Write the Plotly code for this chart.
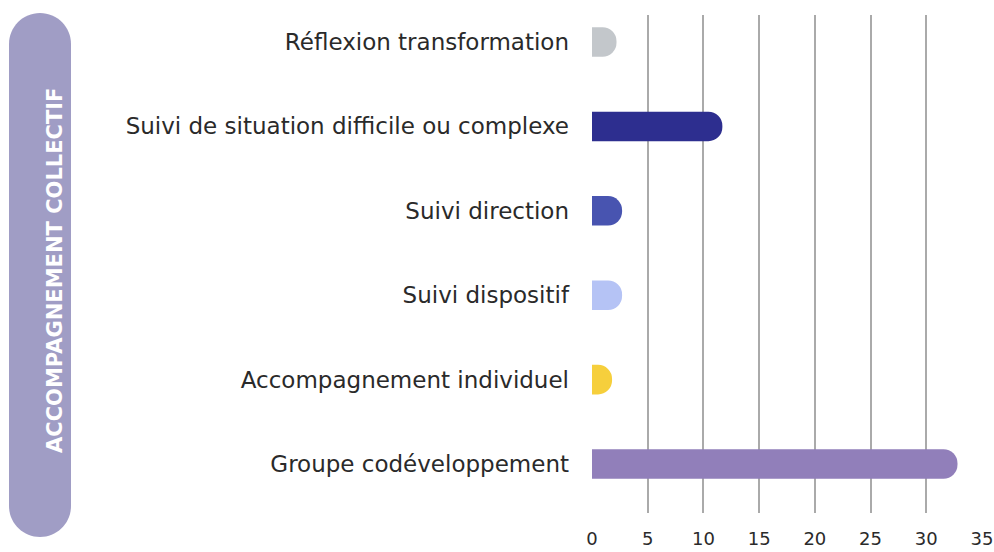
import plotly.graph_objects as go

categories = ["Groupe codéveloppement", "Accompagnement individuel", "Suivi dispositif",
              "Suivi direction", "Suivi de situation difficile ou complexe", "Réflexion transformation"]
values = [32.8, 1.8, 2.7, 2.7, 11.7, 2.2]
colors = ["#917fba", "#f6cf3c", "#b5c3f5", "#4854b0", "#2d2e8f", "#c3c7cb"]
x_ticks = [0, 5, 10, 15, 20, 25, 30, 35]
group_label = "ACCOMPAGNEMENT COLLECTIF"

W, H = 994, 552
L, R, T, B = 592, 982, 15, 513

def px2paper(px, py):
    return (px - L) / (R - L), (B - py) / (B - T)

fig = go.Figure(go.Bar(
    x=values, y=categories, orientation="h",
    marker=dict(color=colors, cornerradius="50%", line=dict(width=0)),
    width=0.35, hoverinfo="x+y",
))

# pill shape
x0, x1, y0, y1, r = 9, 71, 13, 537, 31
k = 0.5523 * r
def P(px, py):
    a, b = px2paper(px, py)
    return f"{a:.5f},{b:.5f}"
path = (f"M {P(x0, y0 + r)} "
        f"C {P(x0, y0 + r - k)} {P(x0 + r - k, y0)} {P(x0 + r, y0)} "
        f"C {P(x0 + r + k, y0)} {P(x1, y0 + r - k)} {P(x1, y0 + r)} "
        f"L {P(x1, y1 - r)} "
        f"C {P(x1, y1 - r + k)} {P(x1 - r + k, y1)} {P(x1 - r, y1)} "
        f"C {P(x1 - r - k, y1)} {P(x0, y1 - r + k)} {P(x0, y1 - r)} Z")
fig.add_shape(type="path", path=path, xref="paper", yref="paper",
              fillcolor="#a09dc5", line=dict(width=0), layer="below")

cx, cy = px2paper(41, 271)
fig.add_annotation(text=f"<b>{group_label}</b>", x=cx, y=cy, xref="paper", yref="paper",
                   textangle=-90, showarrow=False,
                   font=dict(family="DejaVu Sans", size=21, color="white"))

fig.update_layout(
    width=W, height=H,
    margin=dict(l=L, r=W - R, t=T, b=H - B, pad=0),
    paper_bgcolor="white", plot_bgcolor="white",
    showlegend=False,
    font=dict(family="DejaVu Sans", color="#2a2a2a"),
    xaxis=dict(range=[0, 35], tickvals=x_ticks, showgrid=True, gridcolor="#aaaaaa",
               gridwidth=1.5, zeroline=False, showline=False, ticks="", automargin=False,
               tickfont=dict(size=18, color="#2a2a2a"), ticklabelstandoff=13, fixedrange=True),
    yaxis=dict(range=[-0.58, 5.32], showgrid=False, zeroline=False, showline=False, ticks="",
               automargin=False,
               tickfont=dict(size=23, color="#2a2a2a"), ticklabelstandoff=22, fixedrange=True),
)

fig.write_html("out.html", config={"displayModeBar": False},
               post_script="document.body.style.margin='0';document.body.style.overflow='hidden';")
